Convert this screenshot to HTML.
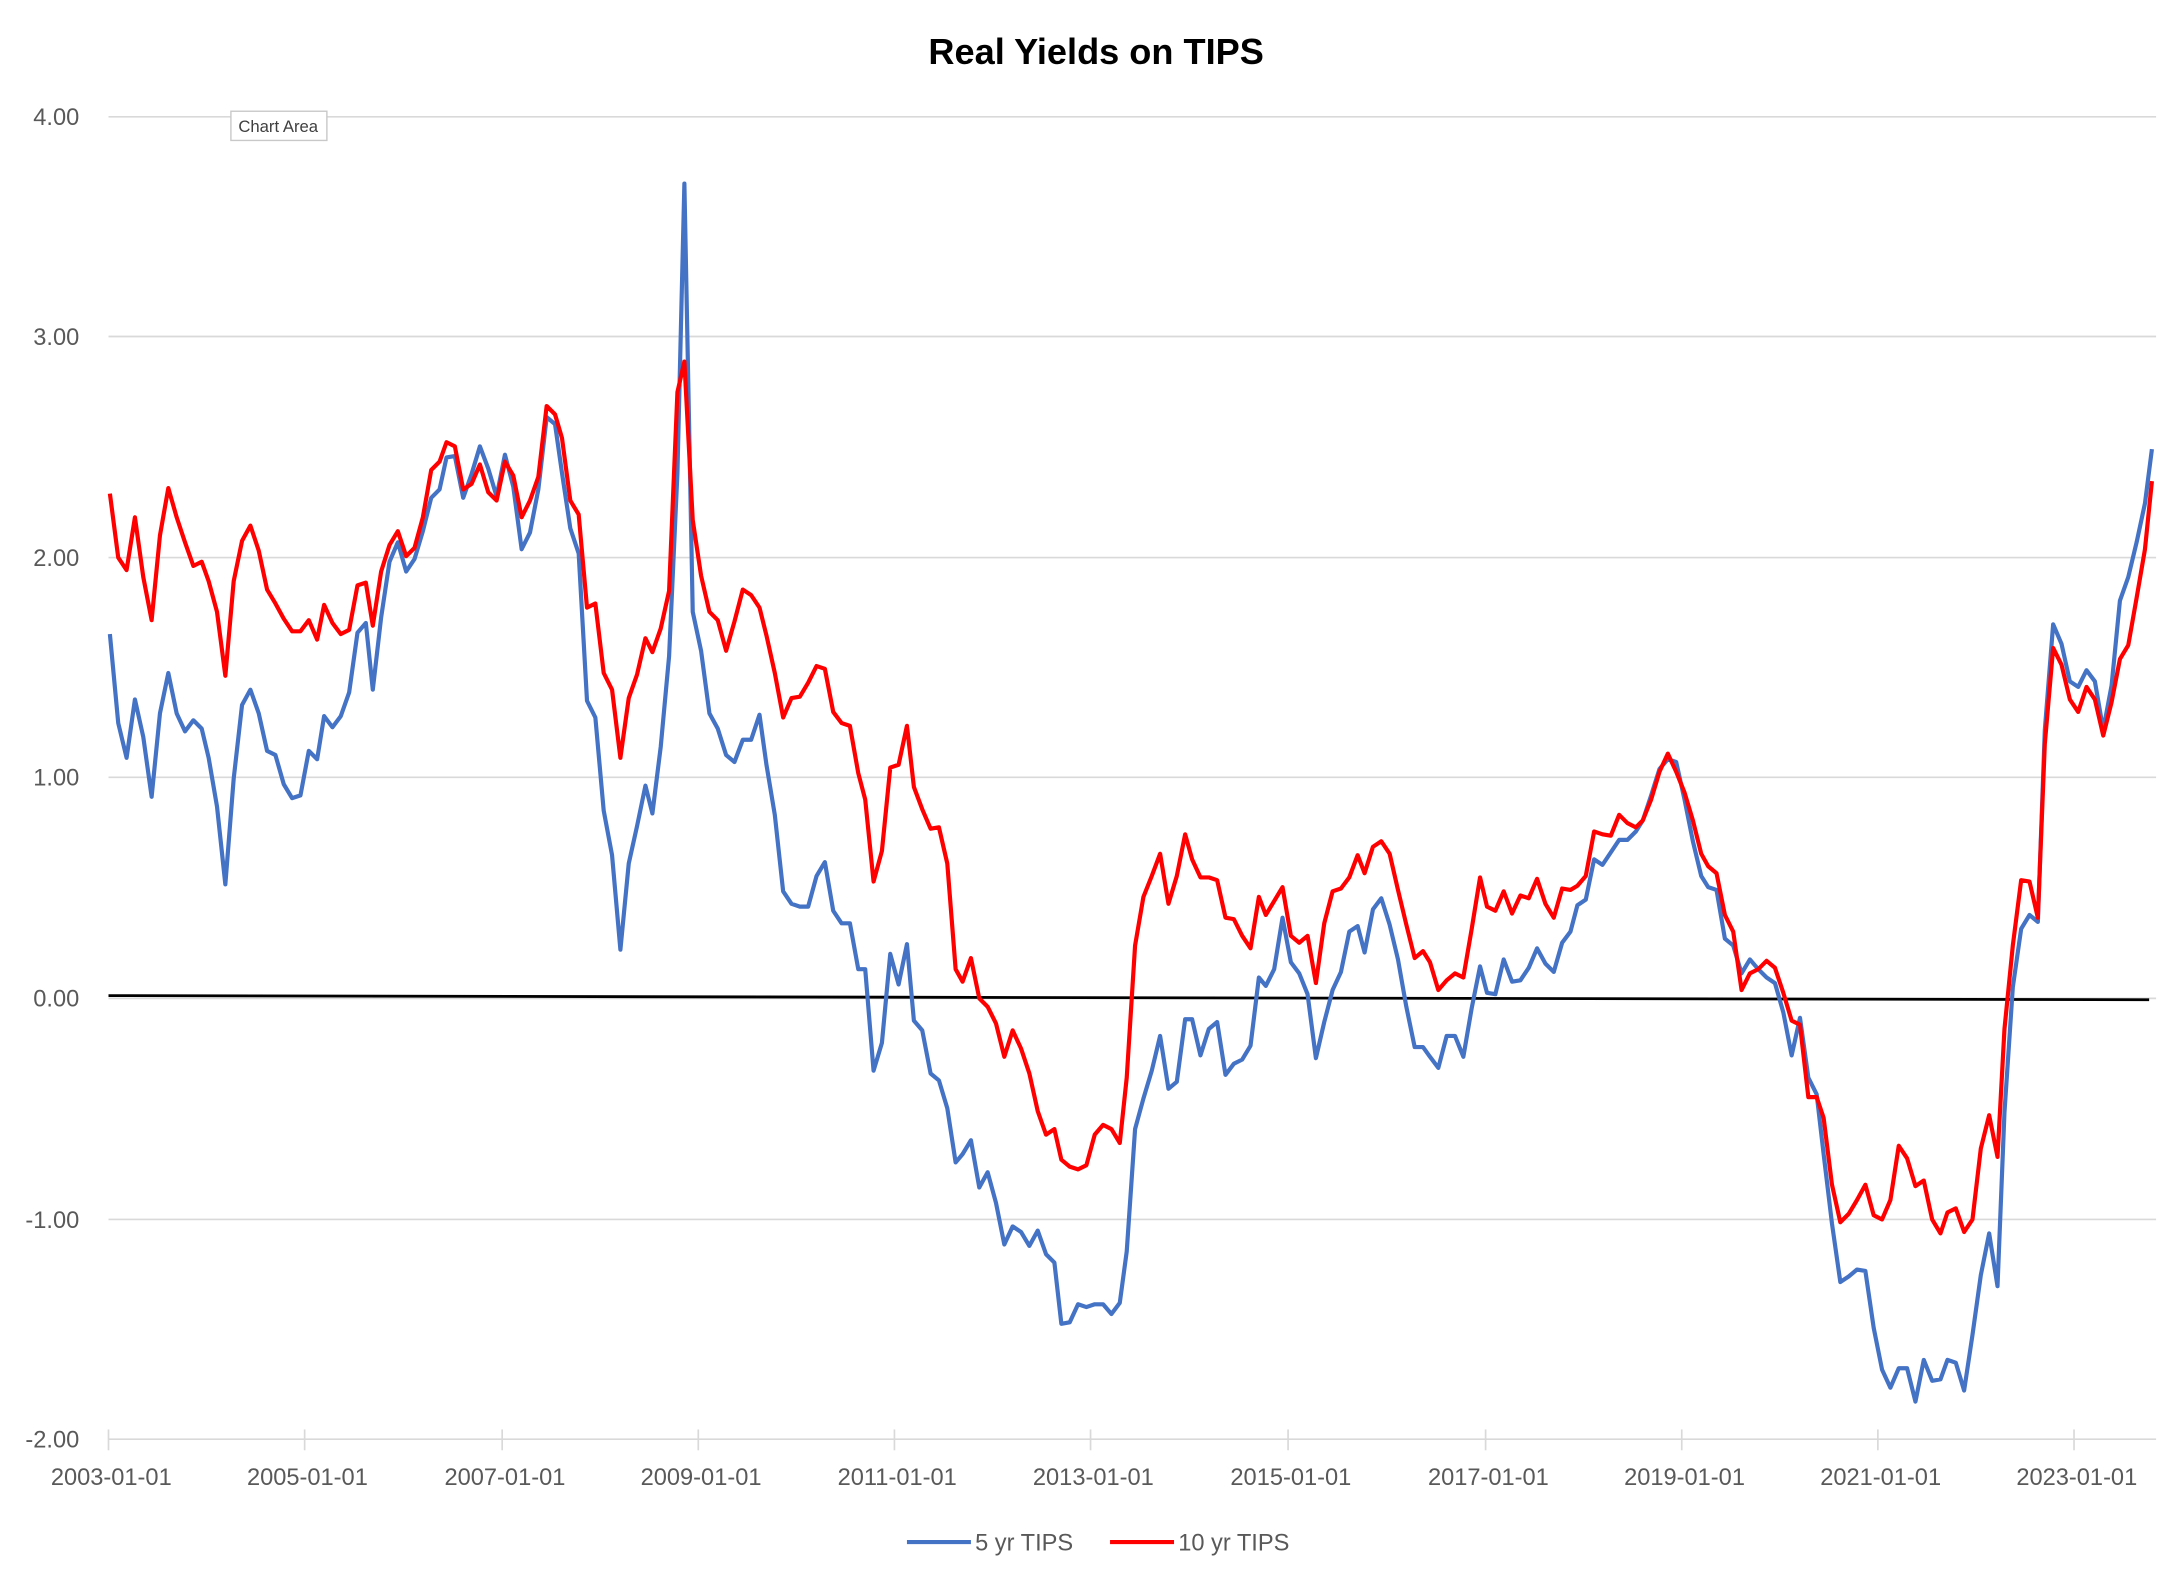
<!DOCTYPE html>
<html><head><meta charset="utf-8"><style>
html,body{margin:0;padding:0;background:#fff;}
svg{display:block;}
text{font-family:"Liberation Sans",sans-serif;}
</style></head><body>
<svg width="2170" height="1581" viewBox="0 0 1560 1137" preserveAspectRatio="none" xmlns="http://www.w3.org/2000/svg">
<rect width="1560" height="1137" fill="#fff"/>
<text x="788" y="46" text-anchor="middle" font-size="26" font-weight="bold" fill="#000">Real Yields on TIPS</text>
<g stroke="#d9d9d9" stroke-width="1.2">
<line x1="78" y1="84" x2="1550" y2="84"/><line x1="78" y1="242" x2="1550" y2="242"/>
<line x1="78" y1="401" x2="1550" y2="401"/><line x1="78" y1="559" x2="1550" y2="559"/>
<line x1="78" y1="718" x2="1550" y2="718"/><line x1="78" y1="877" x2="1550" y2="877"/>
<line x1="78" y1="1035" x2="1550" y2="1035"/>
<line x1="78" y1="1028" x2="78" y2="1043"/><line x1="219" y1="1028" x2="219" y2="1043"/><line x1="361" y1="1028" x2="361" y2="1043"/><line x1="502" y1="1028" x2="502" y2="1043"/><line x1="643" y1="1028" x2="643" y2="1043"/><line x1="784" y1="1028" x2="784" y2="1043"/><line x1="926" y1="1028" x2="926" y2="1043"/><line x1="1068" y1="1028" x2="1068" y2="1043"/><line x1="1209" y1="1028" x2="1209" y2="1043"/><line x1="1350" y1="1028" x2="1350" y2="1043"/><line x1="1491" y1="1028" x2="1491" y2="1043"/>
</g>
<g font-size="17" fill="#595959" text-anchor="end">
<text x="57" y="90">4.00</text><text x="57" y="248">3.00</text><text x="57" y="407">2.00</text><text x="57" y="565">1.00</text><text x="57" y="724">0.00</text><text x="57" y="883">-1.00</text><text x="57" y="1041">-2.00</text>
</g>
<g font-size="17" fill="#595959" text-anchor="middle">
<text x="80" y="1068">2003-01-01</text><text x="221" y="1068">2005-01-01</text><text x="363" y="1068">2007-01-01</text><text x="504" y="1068">2009-01-01</text><text x="645" y="1068">2011-01-01</text><text x="786" y="1068">2013-01-01</text><text x="928" y="1068">2015-01-01</text><text x="1070" y="1068">2017-01-01</text><text x="1211" y="1068">2019-01-01</text><text x="1352" y="1068">2021-01-01</text><text x="1493" y="1068">2023-01-01</text>
</g>
<line x1="78" y1="716" x2="1545" y2="719" stroke="#000" stroke-width="2"/>
<polyline fill="none" stroke="#4472c4" stroke-width="3" stroke-linejoin="round" points="79,456 85,520 91,545 97,503 103,530 109,573 115,513 121,484 127,513 133,526 139,518 145,524 150,545 156,580 162,636 168,560 174,507 180,496 186,513 192,540 198,543 204,564 210,574 216,572 222,540 228,546 233,515 239,523 245,515 251,498 257,455 263,448 268,496 274,444 280,404 286,390 292,411 298,402 304,382 310,358 316,352 321,329 327,328 333,358 339,341 345,321 351,337 357,357 363,327 369,350 375,395 381,383 387,352 393,300 399,305 404,340 410,380 416,398 422,504 428,516 434,583 440,615 446,683 452,621 458,594 464,565 469,585 475,537 481,472 487,340 492,132 498,440 504,468 510,513 516,524 522,543 528,548 534,532 540,532 546,514 551,550 557,586 563,641 569,650 575,652 581,652 587,630 593,620 599,655 605,664 611,664 617,697 622,697 628,770 634,750 640,686 646,708 652,679 657,734 663,741 669,772 675,777 681,797 687,836 692,830 698,820 704,854 710,843 716,865 722,895 728,882 734,886 740,896 746,885 752,902 758,908 763,952 769,951 775,938 781,940 787,938 793,938 799,945 805,937 810,900 816,812 822,790 828,770 834,745 840,783 846,778 852,733 857,733 863,759 869,740 875,735 881,773 887,765 893,762 899,752 905,703 910,709 916,697 922,660 928,692 934,700 940,715 946,761 952,735 958,712 964,699 970,670 976,666 981,685 987,654 993,646 999,665 1005,690 1011,724 1017,753 1023,753 1028,760 1034,768 1040,745 1046,745 1052,760 1058,725 1064,695 1069,714 1075,715 1081,690 1087,706 1093,705 1099,696 1105,682 1111,693 1117,699 1123,678 1129,670 1134,651 1140,647 1146,618 1152,622 1158,613 1164,604 1170,604 1176,598 1181,590 1187,572 1193,553 1199,546 1205,548 1211,575 1217,605 1223,630 1228,638 1234,640 1240,675 1246,680 1252,700 1258,690 1264,697 1270,703 1276,707 1282,728 1288,759 1294,732 1300,775 1306,787 1311,830 1317,880 1323,922 1329,918 1335,913 1341,914 1347,955 1353,985 1359,998 1365,984 1371,984 1377,1008 1383,978 1389,993 1395,992 1400,978 1406,980 1412,1000 1418,960 1424,917 1430,887 1436,925 1441,800 1447,710 1453,668 1459,658 1465,663 1470,525 1476,449 1482,463 1488,490 1494,494 1500,482 1506,490 1512,525 1518,493 1524,432 1530,415 1536,390 1542,362 1547,323"/>
<polyline fill="none" stroke="#ff0000" stroke-width="3" stroke-linejoin="round" points="79,355 85,401 91,410 97,372 103,415 109,446 115,385 121,351 127,372 133,390 139,407 145,404 150,418 156,440 162,486 168,418 174,389 180,378 186,396 192,424 198,434 204,445 210,454 216,454 222,446 228,460 233,435 239,448 245,456 251,453 257,421 263,419 268,450 274,411 280,392 286,382 292,400 298,394 304,372 310,338 316,332 321,318 327,321 333,352 339,348 345,334 351,354 357,360 363,332 369,342 375,372 381,360 387,343 393,292 399,298 404,315 410,360 416,370 422,437 428,434 434,484 440,496 446,545 452,502 458,485 464,459 469,469 475,452 481,425 487,282 492,260 498,374 504,414 510,440 516,446 522,468 528,447 534,424 540,428 546,437 551,457 557,484 563,516 569,502 575,501 581,491 587,479 593,481 599,512 605,520 611,522 617,556 622,575 628,634 634,612 640,552 646,550 652,522 657,566 663,582 669,596 675,595 681,621 687,697 692,706 698,689 704,718 710,724 716,736 722,760 728,741 734,754 740,772 746,799 752,816 758,812 763,834 769,839 775,841 781,838 787,816 793,809 799,812 805,822 810,775 816,680 822,645 828,630 834,614 840,650 846,630 852,600 857,618 863,631 869,631 875,633 881,660 887,661 893,673 899,682 905,645 910,658 916,648 922,638 928,673 934,678 940,673 946,707 952,664 958,641 964,639 970,631 976,615 981,628 987,609 993,605 999,614 1005,640 1011,665 1017,689 1023,684 1028,692 1034,712 1040,705 1046,700 1052,703 1058,668 1064,631 1069,652 1075,655 1081,641 1087,657 1093,644 1099,646 1105,632 1111,650 1117,660 1123,639 1129,640 1134,637 1140,630 1146,598 1152,600 1158,601 1164,586 1170,592 1176,595 1181,590 1187,575 1193,555 1199,542 1205,555 1211,570 1217,590 1223,614 1228,623 1234,628 1240,658 1246,670 1252,712 1258,700 1264,697 1270,691 1276,696 1282,714 1288,734 1294,737 1300,789 1306,789 1311,804 1317,852 1323,879 1329,873 1335,863 1341,852 1347,874 1353,877 1359,863 1365,824 1371,833 1377,853 1383,849 1389,877 1395,887 1400,872 1406,869 1412,886 1418,877 1424,826 1430,802 1436,832 1441,740 1447,680 1453,633 1459,634 1465,660 1470,535 1476,466 1482,478 1488,503 1494,512 1500,494 1506,503 1512,529 1518,505 1524,474 1530,464 1536,430 1542,395 1547,346"/>
<rect x="166" y="80" width="69" height="21" fill="#fff" stroke="#c8c8c8" stroke-width="1"/>
<text x="200" y="95" text-anchor="middle" font-size="12" fill="#404040">Chart Area</text>
<line x1="652" y1="1109" x2="698" y2="1109" stroke="#4472c4" stroke-width="3"/>
<text x="701" y="1115" font-size="17" fill="#595959">5 yr TIPS</text>
<line x1="798" y1="1109" x2="844" y2="1109" stroke="#ff0000" stroke-width="3"/>
<text x="847" y="1115" font-size="17" fill="#595959">10 yr TIPS</text>
</svg>
</body></html>
